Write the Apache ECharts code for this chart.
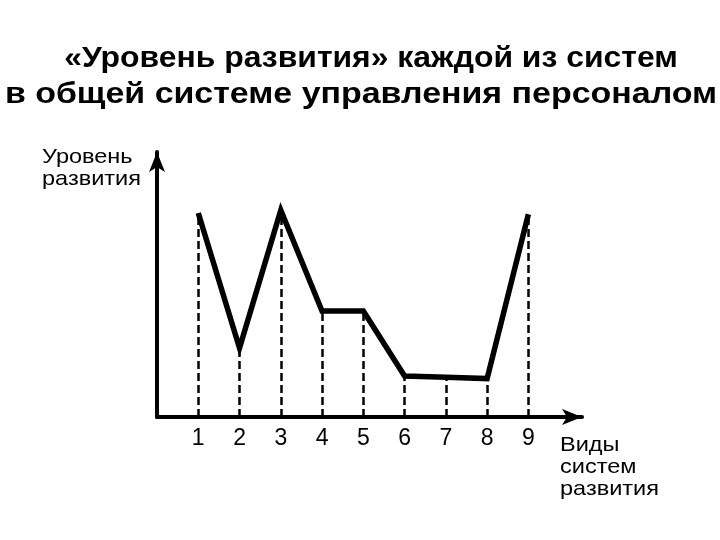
<!DOCTYPE html>
<html>
<head>
<meta charset="utf-8">
<script src="https://cdn.jsdelivr.net/npm/echarts@6/dist/echarts.min.js"></script>
<style>
  html, body { margin: 0; padding: 0; background: #fff; }
  #chart { width: 720px; height: 540px; }
</style>
</head>
<body>
<div id="chart"></div>
<script>
// systems along the x axis
const systems = ['1', '2', '3', '4', '5', '6', '7', '8', '9'];
// development level of each system (arbitrary units, 0..10)
const levels = [7.7, 2.6, 7.8, 4.0, 4.0, 1.55, 1.5, 1.45, 7.65];

const titleLines = [
    '«Уровень развития» каждой из систем',
    'в общей системе управления персоналом'
];
const yName = 'Уровень\nразвития';
const xName = 'Виды\nсистем\nразвития';

const points = systems.map((s, i) => [i + 1, levels[i]]);
const dropLines = points.map((p) => [{ coord: [p[0], 0] }, { coord: [p[0], p[1]] }]);

const chart = echarts.init(document.getElementById('chart'));

chart.setOption({
    backgroundColor: '#fff',
    animation: false,
    grid: { left: 157, top: 152, width: 425, height: 265 },
    xAxis: {
        type: 'value',
        min: 0,
        max: 10.3,
        interval: 1,
        splitLine: { show: false },
        axisTick: { show: false },
        axisLine: {
            lineStyle: { color: '#000', width: 4 },
            symbol: ['none', 'arrow'],
            symbolSize: [12, 20]
        },
        axisLabel: {
            color: '#000',
            fontFamily: 'Liberation Sans',
            fontSize: 23,
            margin: 10,
            showMaxLabel: false,
            formatter: (v) => systems[v - 1] || ''
        }
    },
    yAxis: {
        type: 'value',
        min: 0,
        max: 10,
        splitLine: { show: false },
        axisTick: { show: false },
        axisLabel: { show: false },
        axisLine: {
            lineStyle: { color: '#000', width: 4 },
            symbol: ['none', 'arrow'],
            symbolSize: [12, 20]
        }
    },
    series: [{
        type: 'line',
        data: points,
        symbol: 'none',
        lineStyle: { color: '#000', width: 5.5, join: 'miter' },
        markLine: {
            silent: true,
            symbol: 'none',
            label: { show: false },
            lineStyle: { color: '#000', width: 2.5, type: [8, 4] },
            data: dropLines
        }
    }],
    graphic: [
        {
            type: 'text', x: 371, y: 44, scaleX: 1.1,
            style: { text: titleLines[0], fill: '#000', textAlign: 'center', font: 'bold 29px "Liberation Sans"' }
        },
        {
            type: 'text', x: 361, y: 80, scaleX: 1.17,
            style: { text: titleLines[1], fill: '#000', textAlign: 'center', font: 'bold 29px "Liberation Sans"' }
        },
        {
            type: 'text', x: 42, y: 146, scaleX: 1.12,
            style: { text: yName, fill: '#000', font: '21px "Liberation Sans"', lineHeight: 22 }
        },
        {
            type: 'text', x: 560, y: 434, scaleX: 1.12,
            style: { text: xName, fill: '#000', font: '21px "Liberation Sans"', lineHeight: 22 }
        }
    ]
});
</script>
</body>
</html>
